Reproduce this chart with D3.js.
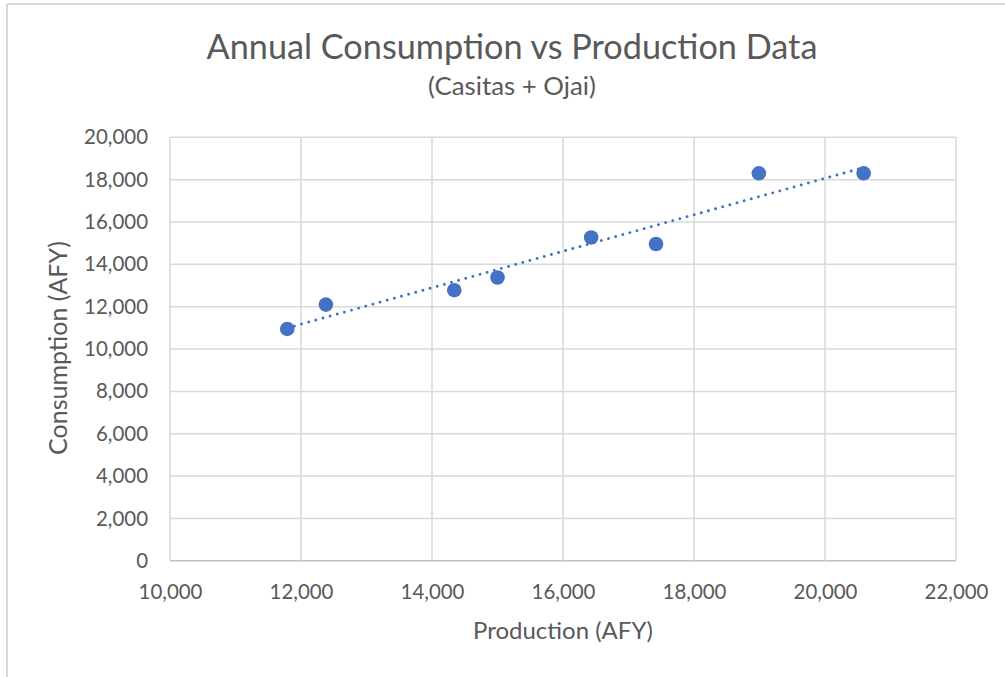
<!DOCTYPE html>
<html><head><meta charset="utf-8">
<script src="https://cdn.jsdelivr.net/npm/d3@7/dist/d3.min.js"></script>
<style>body{margin:0;background:#fff;} svg{display:block;}</style>
</head><body>
<svg id="c" width="1005" height="677"></svg>
<script>
const production = [11790, 12380, 14340, 15000, 16430, 17420, 18990, 20590];
const consumption = [10950, 12100, 12780, 13380, 15270, 14960, 18300, 18300];
const xTicks = [10000, 12000, 14000, 16000, 18000, 20000, 22000];
const yTicks = [0, 2000, 4000, 6000, 8000, 10000, 12000, 14000, 16000, 18000, 20000];
const titleText = "Annual Consumption vs Production Data";
const subtitleText = "(Casitas + Ojai)";
const xTitle = "Production (AFY)";
const yTitle = "Consumption (AFY)";

const FONT = "Lato, 'Open Sans', sans-serif";
const svg = d3.select("#c");
const x = d3.scaleLinear().domain([10000, 22000]).range([170, 956]);
const y = d3.scaleLinear().domain([0, 20000]).range([560.8, 137.3]);
const fmt = d3.format(",");

// chart border (top & left visible)
svg.append("line").attr("x1",7).attr("x2",1005).attr("y1",4).attr("y2",4).attr("stroke","#d9d9d9").attr("stroke-width",2);
svg.append("line").attr("x1",7).attr("x2",7).attr("y1",4).attr("y2",677).attr("stroke","#d9d9d9").attr("stroke-width",2);

function fitText(sel, target) {
  const n = sel.node();
  const w = n.getComputedTextLength();
  const fs = parseFloat(sel.attr("font-size"));
  sel.attr("font-size", fs * target / w);
}

// gridlines
const grid = svg.append("g");
grid.selectAll("line.h").data(yTicks).join("line").attr("class","h")
  .attr("x1", x(10000)).attr("x2", x(22000))
  .attr("y1", d => y(d)).attr("y2", d => y(d))
  .attr("stroke", d => d === 0 ? "#bfbfbf" : "#d9d9d9").attr("stroke-width", 1.5);
grid.selectAll("line.v").data(xTicks).join("line").attr("class","v")
  .attr("x1", d => x(d)).attr("x2", d => x(d))
  .attr("y1", y(0)).attr("y2", y(20000))
  .attr("stroke", "#d9d9d9").attr("stroke-width", 1.5);

// tick label size fitted to the reference width of "10,000"
const probe = svg.append("text").attr("font-family", FONT).attr("font-size", 18).text(fmt(10000));
fitText(probe, 64);
const tickFS = parseFloat(probe.attr("font-size"));
probe.remove();

const xAxis = svg.append("g").attr("transform", `translate(0,${y(0)})`)
  .call(d3.axisBottom(x).tickValues(xTicks).tickFormat(fmt).tickSize(0).tickPadding(31.5));
const yAxis = svg.append("g").attr("transform", `translate(${x(10000)},0)`)
  .call(d3.axisLeft(y).tickValues(yTicks).tickFormat(fmt).tickSize(0).tickPadding(22));
[xAxis, yAxis].forEach(a => {
  a.select(".domain").remove();
  a.selectAll("text").attr("font-family", FONT).attr("font-size", tickFS).attr("fill", "#595959");
});
xAxis.selectAll("text").attr("dy", "0.35em");

// trendline (least squares fit of the data)
const n = production.length;
const mx = d3.mean(production), my = d3.mean(consumption);
let sxy = 0, sxx = 0;
for (let i = 0; i < n; i++) { sxy += (production[i]-mx)*(consumption[i]-my); sxx += (production[i]-mx)**2; }
const slope = sxy / sxx, intercept = my - slope * mx;
const xr = d3.extent(production);
svg.append("path")
  .datum(xr.map(v => [v, intercept + slope * v]))
  .attr("d", d3.line().x(d => x(d[0])).y(d => y(d[1])))
  .attr("fill", "none").attr("stroke", "#4472C4").attr("stroke-width", 2.9)
  .attr("stroke-linecap", "round").attr("stroke-dasharray", "0.01 7.4");

// points
svg.append("g").selectAll("circle").data(production.map((p,i)=>[p, consumption[i]])).join("circle")
  .attr("cx", d => x(d[0])).attr("cy", d => y(d[1])).attr("r", 7.3)
  .attr("fill", "#4472C4");

// titles
const t = svg.append("text").attr("x", 512).attr("y", 59).attr("text-anchor","middle")
  .attr("font-family", FONT).attr("font-size", 28).attr("fill", "#595959").text(titleText);
fitText(t, 611);
const st = svg.append("text").attr("x", 512).attr("y", 95).attr("text-anchor","middle")
  .attr("font-family", FONT).attr("font-size", 18).attr("fill", "#595959").text(subtitleText);
fitText(st, 168);
const xt = svg.append("text").attr("x", 563).attr("y", 639).attr("text-anchor","middle")
  .attr("font-family", FONT).attr("font-size", 20).attr("fill", "#595959").text(xTitle);
fitText(xt, 180);
const yt = svg.append("text").attr("transform", "translate(67,348) rotate(-90)").attr("text-anchor","middle")
  .attr("font-family", FONT).attr("font-size", 20).attr("fill", "#595959").text(yTitle);
fitText(yt, 214);
</script>
</body></html>
